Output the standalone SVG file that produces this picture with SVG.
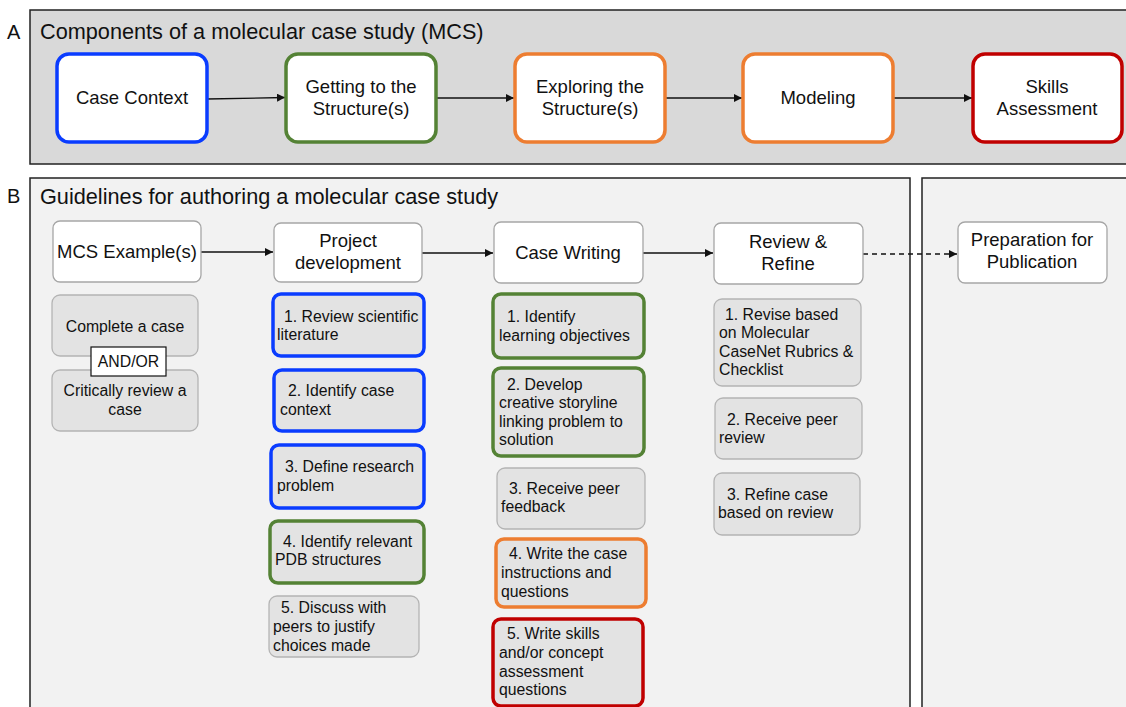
<svg xmlns="http://www.w3.org/2000/svg" width="1126" height="707" viewBox="0 0 1126 707">
<style>
text{font-family:"Liberation Sans",Arial,sans-serif;fill:#111}
.lbl{font-size:20px}
.title{font-size:21.7px}
.big{font-size:18.5px;text-anchor:middle}
.sm{font-size:15.8px}
.smc{font-size:15.8px;text-anchor:middle}
.pa{fill:#d9d9d9;stroke:#222;stroke-width:1.5}
.pb{fill:#f2f2f2;stroke:#222;stroke-width:1.5}
.an{fill:#fff;stroke-width:3.5}
.hd{fill:#fff;stroke:#a6a6a6;stroke-width:1.3}
.gb{fill:#e3e3e3;stroke:#b4b4b4;stroke-width:1.3}
.cb{fill:#e3e3e3;stroke-width:3.5}
.blue{stroke:#0a3cff}.green{stroke:#548235}.orange{stroke:#ed7d31}.red{stroke:#c00000}
.con{stroke:#111;stroke-width:1.3;fill:none}
</style>
<defs>
<marker id="ah" viewBox="0 0 10 10" refX="10" refY="5" markerWidth="8" markerHeight="8" markerUnits="userSpaceOnUse" orient="auto">
<path d="M0,0 L10,5 L0,10 z" fill="#111"/>
</marker>
</defs>

<g id="panelA">
<rect class="pa" x="30" y="10" width="1110" height="154"/>
<text class="lbl" x="7" y="39">A</text>
<text class="title" x="40" y="39">Components of a molecular case study (MCS)</text>
</g>
<g id="panelB">
<rect class="pb" x="30" y="178" width="880" height="540"/>
<rect class="pb" x="922" y="178" width="220" height="540"/>
<text class="lbl" x="7" y="203">B</text>
<text class="title" x="40" y="204">Guidelines for authoring a molecular case study</text>
</g>

<g id="connectors">
<line class="con" x1="207" y1="99" x2="285" y2="97.5" marker-end="url(#ah)"/>
<line class="con" x1="436" y1="98" x2="514" y2="98" marker-end="url(#ah)"/>
<line class="con" x1="665" y1="98" x2="742" y2="98" marker-end="url(#ah)"/>
<line class="con" x1="893" y1="98" x2="972" y2="98" marker-end="url(#ah)"/>
<line class="con" x1="201" y1="252" x2="273" y2="252" marker-end="url(#ah)"/>
<line class="con" x1="422" y1="253" x2="493" y2="253" marker-end="url(#ah)"/>
<line class="con" x1="643" y1="253" x2="713" y2="253" marker-end="url(#ah)"/>
<line class="con" x1="863" y1="254" x2="957" y2="254" stroke-dasharray="5,4" marker-end="url(#ah)"/>
</g>

<g id="caseContext">
<rect class="an blue" x="57" y="54" width="150" height="88" rx="12"/>
<text class="big" x="132" y="104">Case Context</text>
</g>
<g id="gettingStructure">
<rect class="an green" x="286" y="54" width="150" height="88" rx="12"/>
<text class="big" x="361" y="93">Getting to the</text>
<text class="big" x="361" y="115">Structure(s)</text>
</g>
<g id="exploringStructure">
<rect class="an orange" x="515" y="54" width="150" height="88" rx="12"/>
<text class="big" x="590" y="93">Exploring the</text>
<text class="big" x="590" y="115">Structure(s)</text>
</g>
<g id="modeling">
<rect class="an orange" x="743" y="54" width="150" height="88" rx="12"/>
<text class="big" x="818" y="104">Modeling</text>
</g>
<g id="skillsAssessment">
<rect class="an red" x="973" y="54" width="149" height="88" rx="12"/>
<text class="big" x="1047" y="93">Skills</text>
<text class="big" x="1047" y="115">Assessment</text>
</g>

<g id="mcsExample">
<rect class="hd" x="53" y="221" width="148" height="61" rx="7"/>
<text class="big" x="127" y="258">MCS Example(s)</text>
</g>
<g id="projectDev">
<rect class="hd" x="274" y="223" width="148" height="59" rx="7"/>
<text class="big" x="348" y="247">Project</text>
<text class="big" x="348" y="269">development</text>
</g>
<g id="caseWriting">
<rect class="hd" x="494" y="222" width="149" height="61" rx="7"/>
<text class="big" x="568" y="259">Case Writing</text>
</g>
<g id="reviewRefine">
<rect class="hd" x="714" y="223" width="149" height="61" rx="7"/>
<text class="big" x="788" y="248">Review &amp;</text>
<text class="big" x="788" y="270">Refine</text>
</g>
<g id="preparation">
<rect class="hd" x="958" y="222" width="149" height="61" rx="7"/>
<text class="big" x="1032" y="246">Preparation for</text>
<text class="big" x="1032" y="268">Publication</text>
</g>

<g id="completeCase">
<rect class="gb" x="52" y="295" width="146" height="61" rx="8"/>
<text class="smc" x="125" y="332">Complete a case</text>
</g>
<g id="criticallyReview">
<rect class="gb" x="52" y="370" width="146" height="61" rx="8"/>
<text class="smc" x="125" y="396">Critically review a</text>
<text class="smc" x="125" y="415">case</text>
</g>
<g id="andOr">
<rect x="91" y="347" width="75" height="29" fill="#fff" stroke="#111" stroke-width="1.2"/>
<text class="smc" x="128.5" y="367">AND/OR</text>
</g>

<g id="pd1">
<rect class="cb blue" x="273" y="294" width="151" height="62" rx="8"/>
<text class="sm" x="284" y="322">1. Review scientific</text>
<text class="sm" x="277" y="340">literature</text>
</g>
<g id="pd2">
<rect class="cb blue" x="274" y="370" width="150" height="61" rx="8"/>
<text class="sm" x="288" y="396">2. Identify case</text>
<text class="sm" x="280" y="415">context</text>
</g>
<g id="pd3">
<rect class="cb blue" x="271" y="445" width="153" height="63" rx="8"/>
<text class="sm" x="285" y="472">3. Define research</text>
<text class="sm" x="277" y="491">problem</text>
</g>
<g id="pd4">
<rect class="cb green" x="270" y="521" width="154" height="62" rx="8"/>
<text class="sm" x="283" y="547">4. Identify relevant</text>
<text class="sm" x="275" y="565">PDB structures</text>
</g>
<g id="pd5">
<rect class="gb" x="269" y="596" width="150" height="61" rx="8"/>
<text class="sm" x="281" y="613">5. Discuss with</text>
<text class="sm" x="273" y="632">peers to justify</text>
<text class="sm" x="273" y="651">choices made</text>
</g>

<g id="cw1">
<rect class="cb green" x="493" y="294" width="151" height="64" rx="8"/>
<text class="sm" x="507" y="322">1. Identify</text>
<text class="sm" x="499" y="341">learning objectives</text>
</g>
<g id="cw2">
<rect class="cb green" x="493" y="368" width="151" height="88" rx="8"/>
<text class="sm" x="507" y="390">2. Develop</text>
<text class="sm" x="499" y="408">creative storyline</text>
<text class="sm" x="499" y="427">linking problem to</text>
<text class="sm" x="499" y="445">solution</text>
</g>
<g id="cw3">
<rect class="gb" x="497" y="468" width="148" height="61" rx="8"/>
<text class="sm" x="509" y="494">3. Receive peer</text>
<text class="sm" x="501" y="512">feedback</text>
</g>
<g id="cw4">
<rect class="cb orange" x="496" y="539" width="150" height="68" rx="8"/>
<text class="sm" x="509" y="559">4. Write the case</text>
<text class="sm" x="501" y="578">instructions and</text>
<text class="sm" x="501" y="597">questions</text>
</g>
<g id="cw5">
<rect class="cb red" x="493" y="619" width="150" height="87" rx="8"/>
<text class="sm" x="507" y="639">5. Write skills</text>
<text class="sm" x="499" y="658">and/or concept</text>
<text class="sm" x="499" y="677">assessment</text>
<text class="sm" x="499" y="695">questions</text>
</g>

<g id="rr1">
<rect class="gb" x="714" y="299" width="147" height="87" rx="8"/>
<text class="sm" x="725" y="320">1. Revise based</text>
<text class="sm" x="719" y="338">on Molecular</text>
<text class="sm" x="719" y="357">CaseNet Rubrics &amp;</text>
<text class="sm" x="719" y="375">Checklist</text>
</g>
<g id="rr2">
<rect class="gb" x="715" y="398" width="147" height="61" rx="8"/>
<text class="sm" x="727" y="425">2. Receive peer</text>
<text class="sm" x="719" y="443">review</text>
</g>
<g id="rr3">
<rect class="gb" x="714" y="473" width="146" height="62" rx="8"/>
<text class="sm" x="727" y="500">3. Refine case</text>
<text class="sm" x="718" y="518">based on review</text>
</g>
</svg>
